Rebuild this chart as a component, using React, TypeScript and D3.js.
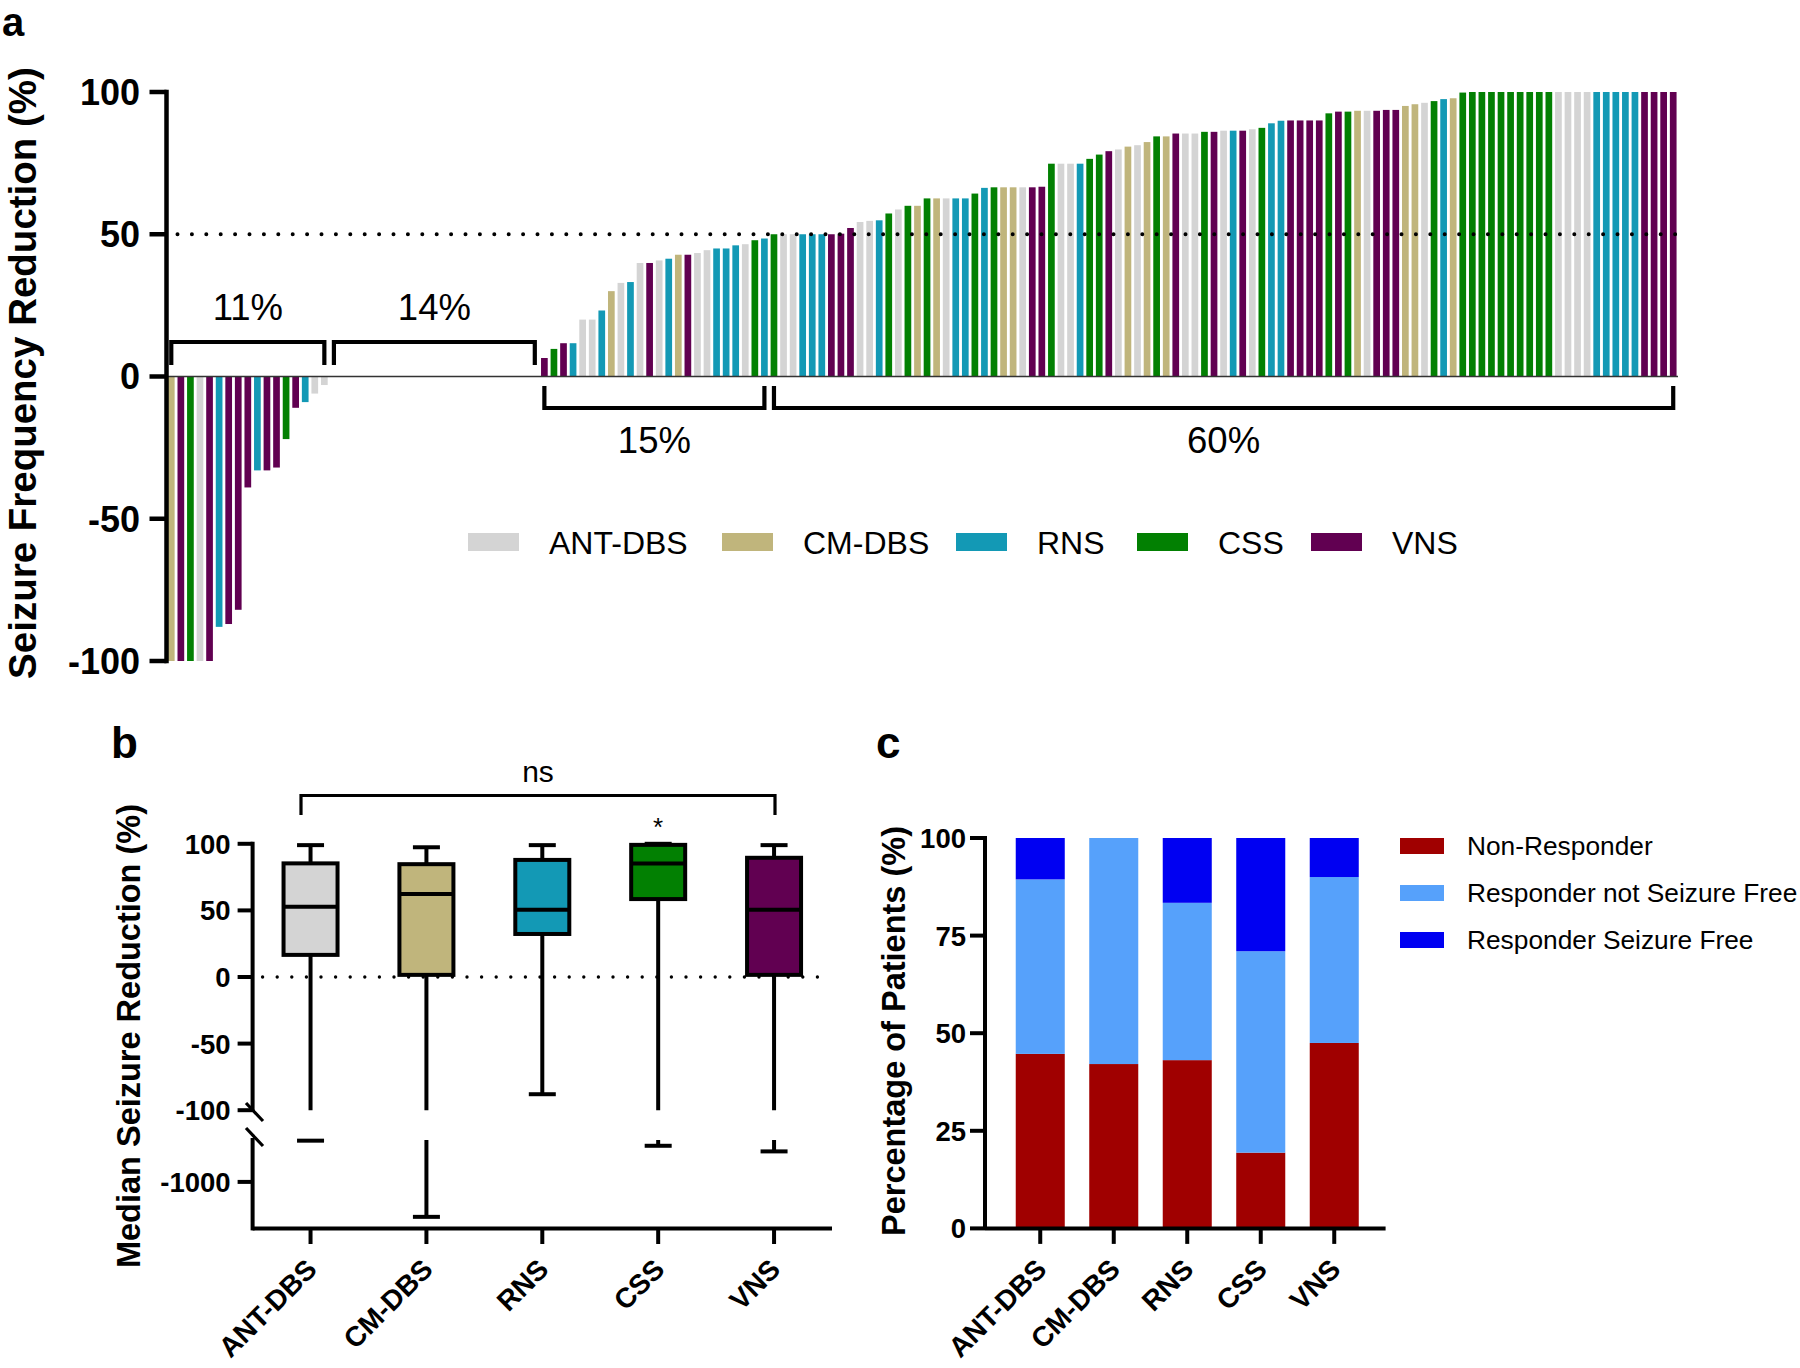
import React from "react";
import * as d3 from "d3";

// ---------- shared ----------
const groups = ["ANT-DBS", "CM-DBS", "RNS", "CSS", "VNS"];
const groupColors = ["#D4D4D4", "#C0B57C", "#1399B5", "#028002", "#610051"];
const groupCodes = ["A", "C", "R", "S", "V"];

// ---------- panel a : waterfall (sorted patients) ----------
const waterfallGroups = [
  // negative responders
  "C", "V", "S", "A", "V", "R", "V", "V", "V", "R", "V", "V", "S", "V", "R", "A", "A",
  // no change
  "A", "A", "A", "A", "A", "A", "A", "A", "A", "A", "A", "A", "A", "A", "A", "A", "A", "A", "A", "A", "A", "A",
  // 0-50 %
  "V", "S", "V", "R", "A", "A", "R", "C", "A", "R", "A", "V", "A", "R", "C", "V", "A", "A", "R", "R", "R", "A", "S", "R",
  // >= 50 %
  "S", "A", "A", "R", "R", "R", "V", "V", "V", "A", "A", "R", "S", "A", "S", "C", "S", "C",
  "A", "R", "R", "S", "R", "S", "C", "C", "A", "V", "V", "S", "A", "A", "R", "S", "S", "V", "A", "C",
  "A", "C", "S", "C", "V", "A", "A", "S", "V", "A", "R", "V", "A", "S", "R", "R", "V", "V", "V", "V",
  "S", "V", "S", "C", "A", "V", "V", "V", "C", "C", "A", "S", "R", "C", "S",
  "S", "S", "S", "S", "S", "S", "S", "S", "S",
  "A", "A", "A", "A", "R", "R", "R", "R", "R", "V", "V", "V", "V",
];
const waterfallValues = [
  -100, -100, -100, -100, -100, -88, -87, -82, -39, -33, -33, -32, -22, -11, -9, -6, -3,
  0, 0, 0, 0, 0, 0, 0, 0, 0, 0, 0, 0, 0, 0, 0, 0, 0, 0, 0, 0, 0, 0,
  6.5, 9.7, 11.7, 11.7, 20, 20, 23.2, 30, 32.9, 33.2, 39.9, 39.9, 40.8, 41.4, 42.8, 42.8, 43.4, 44.4, 45, 45, 46.1, 46.5, 47.9, 48.5,
  50, 50, 50, 50, 50, 50, 50, 50.2, 52.2, 54.3, 54.7, 54.9, 57.3, 58.7, 60, 60, 62.6, 62.6,
  62.6, 62.6, 62.6, 64.3, 66.3, 66.5, 66.5, 66.5, 66.5, 66.5, 66.7, 74.8, 74.8, 74.8, 74.8, 76.5, 78, 79.2, 79.8, 80.8,
  81.3, 82.4, 84.4, 84.4, 85.4, 85.4, 85.4, 86, 86, 86.4, 86.4, 86.4, 86.9, 87.4, 89, 89.9, 90, 90, 90, 90,
  92.5, 93.1, 93.1, 93.4, 93.4, 93.4, 93.7, 93.7, 95.1, 95.7, 96.2, 96.8, 97.5, 97.8, 99.8,
  100, 100, 100, 100, 100, 100, 100, 100, 100,
  100, 100, 100, 100, 100, 100, 100, 100, 100, 100, 100, 100, 100,
];
const yTicksA = [100, 50, 0, -50, -100];
const bracketLabels = ["11%", "14%", "15%", "60%"];
const bracketStart = [0, 17, 39, 63];
const bracketEnd = [16, 38, 62, 157];
const bracketAbove = [true, true, false, false];

// ---------- panel b : box plots ----------
const boxMax = [99, 97.4, 99, 100, 99];
const boxQ3 = [85.3, 84.7, 87.9, 99.2, 89.5];
const boxMedian = [52.7, 62.3, 50.5, 85.3, 50.5];
const boxQ1 = [16.6, 1.6, 32.3, 58.5, 1.6];
const boxMin = [-508, -1417, -88, -569, -636];
const yTicksBUpper = [100, 50, 0, -50, -100];
const yTicksBLower = [-1000];

// ---------- panel c : stacked responder bars ----------
const stackKeys = ["Non-Responder", "Responder not Seizure Free", "Responder Seizure Free"];
const stackColors = ["#A00000", "#56A1FB", "#0000F2"];
const nonResponder = [44.7, 42.1, 43.1, 19.4, 47.5];
const responderNotSF = [44.7, 57.9, 40.3, 51.6, 42.5];
const responderSF = [10.6, 0, 16.6, 29.0, 10.0];
const yTicksC = [0, 25, 50, 75, 100];

const FONT = "'Liberation Sans', Arial, Helvetica, sans-serif";

export default function App() {
  const W = 1800;
  const H = 1368;
  const colorOfCode = (c: string) => groupColors[groupCodes.indexOf(c)];

  // ----- panel a scales -----
  const xA = d3
    .scaleBand<number>()
    .domain(d3.range(waterfallValues.length))
    .range([166.5, 1678])
    .paddingInner(0.3)
    .paddingOuter(0.15);
  const yA = d3.scaleLinear().domain([-100, 100]).range([661, 92]);
  const axisAX = 166.5;
  const cA = (i: number) => (xA(i) as number) + xA.bandwidth() / 2;

  // ----- panel b scales -----
  const xB = d3.scaleBand<string>().domain(groups).range([252.6, 832]);
  const yB = d3.scaleLinear().domain([-100, 100]).range([1110.2, 843.8]);
  const yBL = d3.scaleLinear().domain([-500, -1550]).range([1140, 1228]);
  const axisBX = 252.6;
  const boxW = 54;
  const capW = 27;
  const cB = (g: string) => (xB(g) as number) + xB.bandwidth() / 2;

  // ----- panel c scales -----
  const xC = d3
    .scaleBand<string>()
    .domain(groups)
    .range([1003.5, 1371])
    .paddingInner(0.333)
    .paddingOuter(0.1665);
  const yC = d3.scaleLinear().domain([0, 100]).range([1228.4, 838]);
  const axisCX = 985;
  const rowsC = groups.map((g, i) => ({
    group: g,
    [stackKeys[0]]: nonResponder[i],
    [stackKeys[1]]: responderNotSF[i],
    [stackKeys[2]]: responderSF[i],
  }));
  const stacked = d3.stack<any>().keys(stackKeys)(rowsC);

  const legendAX = [468, 722, 956, 1137, 1311];
  const lw = 4;

  return (
    <svg
      width={W}
      height={H}
      viewBox={`0 0 ${W} ${H}`}
      style={{ position: "absolute", left: 0, top: 0, background: "#fff" }}
      fontFamily={FONT}
    >
      <rect x={0} y={0} width={W} height={H} fill="#fff" />

      {/* ================= PANEL A ================= */}
      <text x={2} y={36} fontSize={40} fontWeight="bold">a</text>

      {/* bars */}
      {waterfallValues.map((v, i) => (
        <rect
          key={"wb" + i}
          x={xA(i) as number}
          y={Math.min(yA(v), yA(0))}
          width={xA.bandwidth()}
          height={Math.abs(yA(v) - yA(0))}
          fill={colorOfCode(waterfallGroups[i])}
        />
      ))}
      {/* zero baseline */}
      <line x1={axisAX} x2={1678} y1={yA(0)} y2={yA(0)} stroke="#333" strokeWidth={1.5} />
      {/* 50% dotted */}
      <line
        x1={axisAX + 11}
        x2={1678}
        y1={yA(50)}
        y2={yA(50)}
        stroke="#000"
        strokeWidth={4}
        strokeDasharray="0 14.4"
        strokeLinecap="round"
      />
      {/* y axis */}
      <line x1={axisAX} x2={axisAX} y1={yA(100) - 2.25} y2={yA(-100) + 2.25} stroke="#000" strokeWidth={4.5} />
      {yTicksA.map((t) => (
        <g key={"ta" + t}>
          <line x1={axisAX - 17} x2={axisAX} y1={yA(t)} y2={yA(t)} stroke="#000" strokeWidth={4.5} />
          <text x={140} y={yA(t)} dy="0.36em" textAnchor="end" fontSize={36} fontWeight="bold">
            {t}
          </text>
        </g>
      ))}
      <text
        transform={`translate(36, 373) rotate(-90)`}
        textAnchor="middle"
        fontSize={38.5}
        fontWeight="bold"
      >
        Seizure Frequency Reduction (%)
      </text>

      {/* brackets */}
      {bracketLabels.map((lab, k) => {
        const x1 = cA(bracketStart[k]);
        const x2 = cA(bracketEnd[k]);
        const yBar = bracketAbove[k] ? 342 : 408;
        const yTip = bracketAbove[k] ? 365 : 386;
        const ty = bracketAbove[k] ? 320 : 453;
        return (
          <g key={"br" + k}>
            <path
              d={`M${x1},${yTip} L${x1},${yBar} L${x2},${yBar} L${x2},${yTip}`}
              fill="none"
              stroke="#000"
              strokeWidth={4.2}
            />
            <text x={(x1 + x2) / 2} y={ty} textAnchor="middle" fontSize={36.5}>
              {lab}
            </text>
          </g>
        );
      })}

      {/* legend a */}
      {groups.map((g, i) => (
        <g key={"la" + g}>
          <rect x={legendAX[i]} y={533} width={51} height={18} fill={groupColors[i]} />
          <text x={legendAX[i] + 81} y={542} dy="0.36em" fontSize={32}>
            {g}
          </text>
        </g>
      ))}

      {/* ================= PANEL B ================= */}
      <text x={111} y={758} fontSize={44} fontWeight="bold">b</text>

      {/* ns bracket */}
      <path d={`M301,815 L301,795.5 L775,795.5 L775,815`} fill="none" stroke="#000" strokeWidth={3.2} />
      <text x={538} y={782} textAnchor="middle" fontSize={30}>ns</text>
      <text x={cB("CSS")} y={836} textAnchor="middle" fontSize={26}>*</text>

      {/* whiskers */}
      {groups.map((g, i) => {
        const c = cB(g);
        const lowInUpper = boxMin[i] >= -100;
        return (
          <g key={"wh" + g} stroke="#000" strokeWidth={lw}>
            <line x1={c} x2={c} y1={yB(boxQ3[i])} y2={yB(boxMax[i])} />
            <line x1={c - capW / 2} x2={c + capW / 2} y1={yB(boxMax[i])} y2={yB(boxMax[i])} />
            {lowInUpper ? (
              <>
                <line x1={c} x2={c} y1={yB(boxQ1[i])} y2={yB(boxMin[i])} />
                <line x1={c - capW / 2} x2={c + capW / 2} y1={yB(boxMin[i])} y2={yB(boxMin[i])} />
              </>
            ) : (
              <>
                <line x1={c} x2={c} y1={yB(boxQ1[i])} y2={yB(-100)} />
                <line x1={c} x2={c} y1={yBL(-500)} y2={yBL(boxMin[i])} />
                <line x1={c - capW / 2} x2={c + capW / 2} y1={yBL(boxMin[i])} y2={yBL(boxMin[i])} />
              </>
            )}
          </g>
        );
      })}
      {/* boxes */}
      {groups.map((g, i) => {
        const c = cB(g);
        return (
          <g key={"bx" + g}>
            <rect
              x={c - boxW / 2}
              y={yB(boxQ3[i])}
              width={boxW}
              height={yB(boxQ1[i]) - yB(boxQ3[i])}
              fill={groupColors[i]}
              stroke="#000"
              strokeWidth={lw}
            />
            <line
              x1={c - boxW / 2}
              x2={c + boxW / 2}
              y1={yB(boxMedian[i])}
              y2={yB(boxMedian[i])}
              stroke="#000"
              strokeWidth={lw}
            />
          </g>
        );
      })}
      {/* zero dotted */}
      <line
        x1={axisBX + 10}
        x2={832}
        y1={yB(0)}
        y2={yB(0)}
        stroke="#000"
        strokeWidth={3.4}
        strokeDasharray="0 14.6"
        strokeLinecap="round"
      />
      {/* axes b */}
      <line x1={axisBX} x2={axisBX} y1={yB(100) - 2} y2={1112} stroke="#000" strokeWidth={lw} />
      <line x1={axisBX} x2={axisBX} y1={1138} y2={1228.4 + 2} stroke="#000" strokeWidth={lw} />
      <line x1={246} x2={263} y1={1103} y2={1121} stroke="#000" strokeWidth={3.2} />
      <line x1={246} x2={263} y1={1128} y2={1146} stroke="#000" strokeWidth={3.2} />
      <line x1={axisBX} x2={832} y1={1228.4} y2={1228.4} stroke="#000" strokeWidth={lw} />
      {yTicksBUpper.map((t) => (
        <g key={"tbu" + t}>
          <line x1={axisBX - 15} x2={axisBX} y1={yB(t)} y2={yB(t)} stroke="#000" strokeWidth={lw} />
          <text x={axisBX - 22} y={yB(t)} dy="0.36em" textAnchor="end" fontSize={27.5} fontWeight="bold">
            {t}
          </text>
        </g>
      ))}
      {yTicksBLower.map((t) => (
        <g key={"tbl" + t}>
          <line x1={axisBX - 15} x2={axisBX} y1={yBL(t)} y2={yBL(t)} stroke="#000" strokeWidth={lw} />
          <text x={axisBX - 22} y={yBL(t)} dy="0.36em" textAnchor="end" fontSize={27.5} fontWeight="bold">
            {t}
          </text>
        </g>
      ))}
      {groups.map((g) => (
        <g key={"xb" + g}>
          <line x1={cB(g)} x2={cB(g)} y1={1228.4} y2={1244} stroke="#000" strokeWidth={lw} />
          <text
            transform={`translate(${cB(g) + 8}, 1271) rotate(-45)`}
            textAnchor="end"
            fontSize={28}
            fontWeight="bold"
          >
            {g}
          </text>
        </g>
      ))}
      <text
        transform={`translate(140, 1036) rotate(-90)`}
        textAnchor="middle"
        fontSize={32.5}
        fontWeight="bold"
      >
        Median Seizure Reduction (%)
      </text>

      {/* ================= PANEL C ================= */}
      <text x={876} y={758} fontSize={44} fontWeight="bold">c</text>

      {stacked.map((layer, k) => (
        <g key={"st" + k} fill={stackColors[k]}>
          {layer.map((d: any, i: number) => (
            <rect
              key={"sr" + k + i}
              x={xC(groups[i]) as number}
              y={yC(d[1])}
              width={xC.bandwidth()}
              height={Math.max(0, yC(d[0]) - yC(d[1]))}
            />
          ))}
        </g>
      ))}
      <line x1={axisCX} x2={axisCX} y1={yC(100) - 2} y2={yC(0)} stroke="#000" strokeWidth={lw} />
      <line x1={axisCX} x2={1385.6} y1={yC(0)} y2={yC(0)} stroke="#000" strokeWidth={lw} />
      {yTicksC.map((t) => (
        <g key={"tc" + t}>
          <line x1={axisCX - 15} x2={axisCX} y1={yC(t)} y2={yC(t)} stroke="#000" strokeWidth={lw} />
          <text x={axisCX - 19} y={yC(t)} dy="0.36em" textAnchor="end" fontSize={27.5} fontWeight="bold">
            {t}
          </text>
        </g>
      ))}
      {groups.map((g) => {
        const c = (xC(g) as number) + xC.bandwidth() / 2;
        return (
          <g key={"xc" + g}>
            <line x1={c} x2={c} y1={yC(0)} y2={yC(0) + 15.5} stroke="#000" strokeWidth={lw} />
            <text
              transform={`translate(${c + 8}, 1271) rotate(-45)`}
              textAnchor="end"
              fontSize={28}
              fontWeight="bold"
            >
              {g}
            </text>
          </g>
        );
      })}
      <text
        transform={`translate(905, 1031) rotate(-90)`}
        textAnchor="middle"
        fontSize={32.5}
        fontWeight="bold"
      >
        Percentage of Patients (%)
      </text>

      {/* legend c */}
      {stackKeys.map((k, i) => (
        <g key={"lc" + k}>
          <rect x={1400} y={838 + i * 47} width={44} height={16} fill={stackColors[i]} />
          <text x={1467} y={846 + i * 47} dy="0.36em" fontSize={26.3}>
            {k}
          </text>
        </g>
      ))}
    </svg>
  );
}
